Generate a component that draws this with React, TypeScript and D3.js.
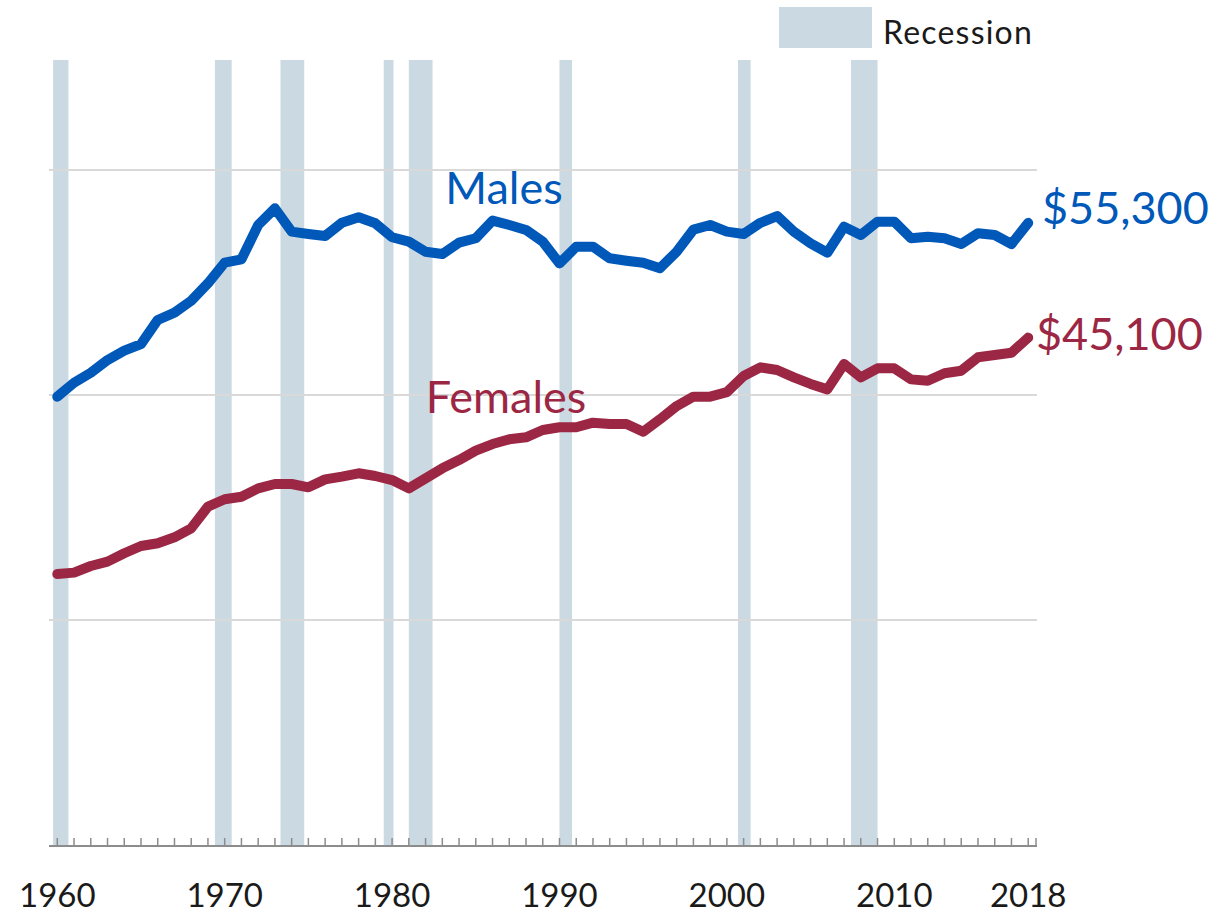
import React, { useEffect, useRef } from "react";
import * as d3 from "d3";

const years: number[] = d3.range(1960, 2019);

const males: number[] = [
  39850, 41090, 41980, 43110, 43940, 44530, 46670, 47320, 48380, 49930,
  51760, 52060, 55110, 56590, 54520, 54310, 54130, 55310, 55800, 55260,
  54020, 53630, 52740, 52530, 53540, 53930, 55500, 55110, 54670, 53630,
  51700, 53180, 53180, 52150, 51940, 51760, 51260, 52740, 54700, 55110,
  54520, 54310, 55310, 55910, 54520, 53480, 52650, 54960, 54220, 55410,
  55410, 53930, 54070, 53930, 53420, 54370, 54220, 53420, 55300,
];

const females: number[] = [
  24090, 24210, 24800, 25190, 25930, 26580, 26820, 27350, 28150, 30080,
  30730, 30960, 31700, 32090, 32090, 31790, 32500, 32740, 33040, 32800,
  32440, 31700, 32590, 33480, 34220, 35050, 35640, 36060, 36240, 36890,
  37130, 37130, 37540, 37420, 37420, 36740, 37840, 39020, 39850, 39850,
  40250, 41690, 42460, 42220, 41570, 40980, 40500, 42760, 41570, 42370,
  42370, 41390, 41270, 41930, 42160, 43350, 43560, 43760, 45100,
];

// recession periods as fractional years [start, end]
const recessions: [number, number][] = [
  [1960 + 3 / 12, 1961 + 2 / 12],
  [1969 + 11 / 12, 1970 + 11 / 12],
  [1973 + 10 / 12, 1975 + 3 / 12],
  [1980 + 0 / 12, 1980 + 7 / 12],
  [1981 + 6 / 12, 1982 + 11 / 12],
  [1990 + 6 / 12, 1991 + 3 / 12],
  [2001 + 2 / 12, 2001 + 11 / 12],
  [2007 + 11 / 12, 2009 + 6 / 12],
];

const gridValues: number[] = [20000, 40000, 60000];
const labelYears: number[] = [1960, 1970, 1980, 1990, 2000, 2010, 2018];

const maleLabel = "Males";
const femaleLabel = "Females";
const maleEnd = "$55,300";
const femaleEnd = "$45,100";

const BLUE = "#0058b9";
const RED = "#9c2744";
const REC = "#cbd9e2";
const FONT = "Lato, 'Open Sans', sans-serif";

export default function App() {
  const ref = useRef<SVGSVGElement>(null);

  useEffect(() => {
    const svg = d3.select(ref.current);
    svg.selectAll("*").remove();

    const x = d3.scaleLinear().domain([1960, 2018]).range([57.3, 1028.2]);
    const y = d3.scaleLinear().domain([0, 70000]).range([845, 57.5]);
    const xLeft = 49;
    const xRight = 1037;

    // recession bars
    svg
      .append("g")
      .selectAll("rect")
      .data(recessions)
      .join("rect")
      .attr("x", (d) => x(d[0] - 0.5))
      .attr("width", (d) => x(d[1] - 0.5) - x(d[0] - 0.5))
      .attr("y", 60)
      .attr("height", y(0) - 60)
      .attr("fill", REC);

    // gridlines
    svg
      .append("g")
      .selectAll("line")
      .data(gridValues)
      .join("line")
      .attr("x1", xLeft)
      .attr("x2", xRight)
      .attr("y1", (d) => y(d))
      .attr("y2", (d) => y(d))
      .attr("stroke", "#d9d9d9")
      .attr("stroke-width", 2);

    // axis
    const ax = svg.append("g");
    ax.append("line")
      .attr("x1", xLeft)
      .attr("x2", xRight)
      .attr("y1", y(0) + 1)
      .attr("y2", y(0) + 1)
      .attr("stroke", "#8c8c8c")
      .attr("stroke-width", 2);
    const tickPos = years.map((yr) => x(yr)).concat([xRight - 1]);
    ax.selectAll("line.tick")
      .data(tickPos)
      .join("line")
      .attr("class", "tick")
      .attr("x1", (d) => d)
      .attr("x2", (d) => d)
      .attr("y1", y(0) + 1)
      .attr("y2", y(0) - 7)
      .attr("stroke", "#8c8c8c")
      .attr("stroke-width", 1.5);
    ax.selectAll("text")
      .data(labelYears)
      .join("text")
      .attr("x", (d) => x(d))
      .attr("y", 907)
      .attr("text-anchor", "middle")
      .attr("font-family", FONT)
      .attr("font-size", 33)
      .attr("fill", "#1a1a1a")
      .text((d) => String(d));

    const line = d3
      .line<number>()
      .x((_, i) => x(years[i]))
      .y((d) => y(d));

    svg
      .append("path")
      .datum(females)
      .attr("d", line)
      .attr("fill", "none")
      .attr("stroke", RED)
      .attr("stroke-width", 10)
      .attr("stroke-linejoin", "round")
      .attr("stroke-linecap", "round");

    svg
      .append("path")
      .datum(males)
      .attr("d", line)
      .attr("fill", "none")
      .attr("stroke", BLUE)
      .attr("stroke-width", 10)
      .attr("stroke-linejoin", "round")
      .attr("stroke-linecap", "round");

    // labels
    svg.append("text")
      .attr("x", 504)
      .attr("y", 204)
      .attr("text-anchor", "middle")
      .attr("font-family", FONT)
      .attr("font-size", 45)
      .attr("fill", BLUE)
      .text(maleLabel);
    svg.append("text")
      .attr("x", 506)
      .attr("y", 413)
      .attr("text-anchor", "middle")
      .attr("font-family", FONT)
      .attr("font-size", 45)
      .attr("fill", RED)
      .text(femaleLabel);
    svg.append("text")
      .attr("x", 1042)
      .attr("y", 224)
      .attr("font-family", FONT)
      .attr("font-size", 45)
      .attr("fill", BLUE)
      .text(maleEnd);
    svg.append("text")
      .attr("x", 1036)
      .attr("y", 350)
      .attr("font-family", FONT)
      .attr("font-size", 45)
      .attr("fill", RED)
      .text(femaleEnd);

    // legend
    svg.append("rect")
      .attr("x", 779)
      .attr("y", 7)
      .attr("width", 93)
      .attr("height", 41)
      .attr("fill", REC);
    svg.append("text")
      .attr("x", 883)
      .attr("y", 44)
      .attr("font-family", FONT)
      .attr("font-size", 32)
      .attr("letter-spacing", 1.2)
      .attr("fill", "#1a1a1a")
      .text("Recession");
  }, []);

  return (
    <svg
      ref={ref}
      width={1224}
      height={913}
      style={{ position: "absolute", left: 0, top: 0, background: "#fff" }}
    />
  );
}
